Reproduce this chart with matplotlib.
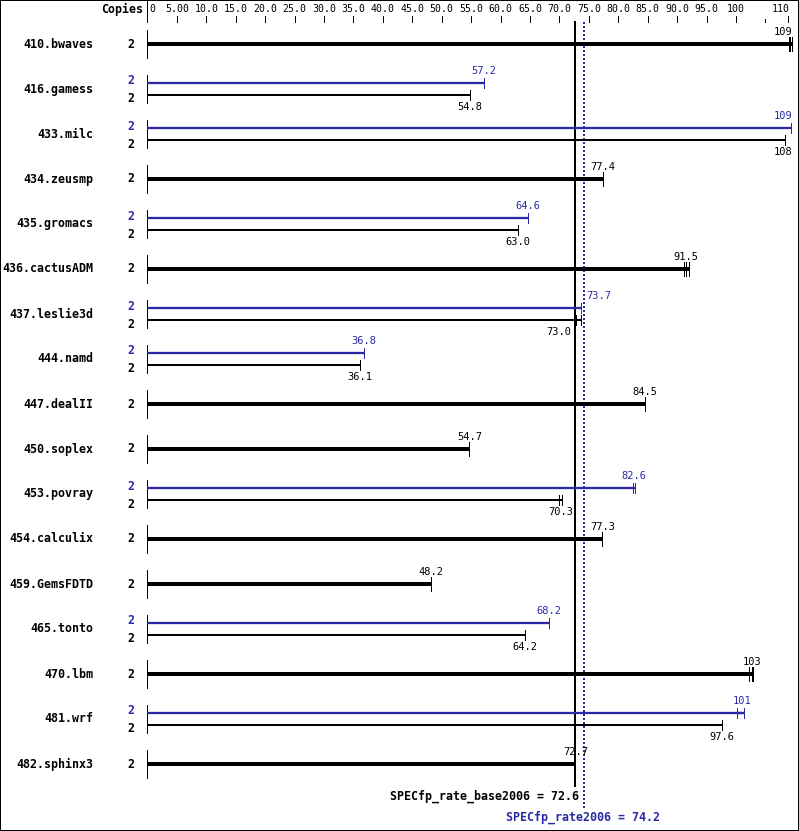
import matplotlib
matplotlib.use("Agg")
import matplotlib.pyplot as plt
from matplotlib.patches import Rectangle

# benchmark results (SPECfp_rate2006), 2 copies each
names = ["410.bwaves", "416.gamess", "433.milc", "434.zeusmp", "435.gromacs",
         "436.cactusADM", "437.leslie3d", "444.namd", "447.dealII", "450.soplex",
         "453.povray", "454.calculix", "459.GemsFDTD", "465.tonto", "470.lbm",
         "481.wrf", "482.sphinx3"]
copies = [2] * len(names)
base = [109.2, 54.8, 108.3, 77.4, 63.0, 91.5, 73.0, 36.1, 84.5, 54.7,
        70.3, 77.3, 48.2, 64.2, 102.7, 97.6, 72.7]
# spread of the runs (min / max), None when runs overlap
base_lo = [109.0, None, None, None, None, 91.2, 72.9, None, None, None,
           70.0, None, None, None, 102.2, None, None]
base_hi = [109.5, None, None, None, None, 92.0, 73.6, None, None, None,
           70.4, None, None, None, 102.9, None, None]
# peak results, None where peak == base
peak = [None, 57.2, 109.4, None, 64.6, None, 73.7, 36.8, None, None,
        82.6, None, None, 68.2, None, 101.0, None]
peak_lo = [None, None, None, None, None, None, None, None, None, None,
           82.45, None, None, None, None, 100.2, None]
peak_hi = [None, None, None, None, None, None, None, None, None, None,
           82.85, None, None, None, None, 101.4, None]

spec_base = 72.6
spec_peak = 74.2

tick_vals = [0, 5, 10, 15, 20, 25, 30, 35, 40, 45, 50, 55, 60, 65, 70, 75,
             80, 85, 90, 95, 100, 108.8]
tick_text = ["0", "5.00", "10.0", "15.0", "20.0", "25.0", "30.0", "35.0", "40.0",
             "45.0", "50.0", "55.0", "60.0", "65.0", "70.0", "75.0", "80.0",
             "85.0", "90.0", "95.0", "100", "110"]

BLUE = "#2a2aa6"
PX = 0.72  # one pixel in points at dpi 100
W, H = 799, 831
X0, SCALE = 147.4, 5.886  # pixel of 0, pixels per unit
CW = 6.3  # approx. pixel width of one value-label char


def fmt(v):
    return "%.0f" % v if v >= 100 else "%.1f" % v


def lab_x(v, txt):
    # keep value labels inside the picture
    half = len(txt) * CW / 2 / SCALE
    return min(v, (W - 6 - X0) / SCALE - half)


fig = plt.figure(figsize=(W / 100, H / 100), dpi=100)
ax = fig.add_axes([0, 0, 1, 1])
ax.set_xlim(-X0 / SCALE, (W - X0) / SCALE)
ax.set_ylim(H, 0)
ax.axis("off")

mono = "DejaVu Sans Mono"
px_x = lambda p: (p - X0) / SCALE  # pixel column to data x
FS_B = 8.4   # bold labels
FS_V = 7.5   # value labels
FS_T = 7.1   # tick labels

# frame
ax.add_patch(Rectangle((0, 0), 1, 1, transform=ax.transAxes, fill=False,
                       lw=2 * PX, ec="black", clip_on=False))

# top scale
ax.plot([0, 0], [0, 22], color="black", lw=PX)
ax.text(px_x(143), 9, "Copies", ha="right", va="center", fontsize=FS_B,
        family=mono, weight="bold")
for v, t in zip(tick_vals, tick_text):
    if v > 0:
        ax.plot([v, v], [16, 22], color="black", lw=PX)
    if v == 0:
        ax.text(0.3, 9, t, ha="left", va="center", fontsize=FS_T, family=mono)
    elif t == "110":
        ax.text(v + 0.3, 9, t, ha="right", va="center", fontsize=FS_T, family=mono)
    else:
        ax.text(v, 9, t, ha="center", va="center", fontsize=FS_T, family=mono)
ax.plot([105, 105], [19, 22], color="black", lw=PX)

# summary lines
ax.plot([spec_base, spec_base], [22, 786], color="black", lw=2 * PX)
ax.plot([spec_peak, spec_peak], [22, 808], color=BLUE, lw=2 * PX,
        linestyle=(0, (1, 1)))
ax.text(spec_base + 0.7, 796, "SPECfp_rate_base2006 = %.1f" % spec_base,
        ha="right", va="center", fontsize=FS_B, family=mono, weight="bold")
ax.text(spec_peak - 0.2, 817, "SPECfp_rate2006 = %.1f" % spec_peak, ha="center",
        va="center", fontsize=FS_B, family=mono, weight="bold", color=BLUE)

for i, name in enumerate(names):
    y = 44 + 45 * i
    ax.text(px_x(93), y, name, ha="right", va="center", fontsize=FS_B,
            family=mono, weight="bold")
    ax.plot([0, 0], [y - 14, y + 14], color="black", lw=PX)
    b = base[i]
    if peak[i] is None:
        ax.text(px_x(131), y, str(copies[i]), ha="center", va="center",
                fontsize=FS_B, family=mono, weight="bold")
        ax.plot([0, b], [y, y], color="black", lw=4 * PX, solid_capstyle="butt")
        ends = [b] if base_lo[i] is None else [base_lo[i], b, base_hi[i]]
        for e in ends:
            ax.plot([e, e], [y - 7, y + 7], color="black", lw=PX)
        if base_lo[i] is not None:
            ax.plot([b, base_hi[i]], [y, y], color="black", lw=4 * PX,
                    solid_capstyle="butt")
        t = fmt(b)
        ax.text(lab_x(b, t), y - 12, t, ha="center", va="center",
                fontsize=FS_V, family=mono)
    else:
        p = peak[i]
        yp, yb = y - 6, y + 6
        ax.text(px_x(131), y - 8, str(copies[i]), ha="center", va="center",
                fontsize=FS_B, family=mono, weight="bold", color=BLUE)
        ax.text(px_x(131), y + 10, str(copies[i]), ha="center", va="center",
                fontsize=FS_B, family=mono, weight="bold")
        ax.plot([0, p], [yp, yp], color=BLUE, lw=2.3 * PX, solid_capstyle="butt")
        ends = [p] if peak_lo[i] is None else [peak_lo[i], peak_hi[i]]
        for e in ends:
            ax.plot([e, e], [yp - 5, yp + 5], color=BLUE, lw=PX)
        if peak_lo[i] is not None:
            ax.plot([peak_lo[i], peak_hi[i]], [yp, yp], color=BLUE, lw=2.3 * PX,
                    solid_capstyle="butt")
        ax.plot([0, b], [yb, yb], color="black", lw=2 * PX, solid_capstyle="butt")
        ends = [b] if base_lo[i] is None else [base_lo[i], base_hi[i]]
        for e in ends:
            ax.plot([e, e], [yb - 5, yb + 5], color="black", lw=PX)
        if base_lo[i] is not None:
            ax.plot([base_lo[i], base_hi[i]], [yb, yb], color="black",
                    lw=2 * PX, solid_capstyle="butt")
        # peak label: move right of the dotted line if it would cross it
        t = fmt(p)
        half = len(t) * CW / 2 / SCALE
        if abs(p - spec_peak) < half:
            ax.text(spec_peak + 0.4, y - 18, t, ha="left", va="center",
                    fontsize=FS_V, family=mono, color=BLUE)
        else:
            ax.text(lab_x(p, t), y - 18, t, ha="center", va="center",
                    fontsize=FS_V, family=mono, color=BLUE)
        # base label: move left of the base line if it would cross it
        t = fmt(b)
        half = len(t) * CW / 2 / SCALE
        if abs(b - spec_base) < half:
            ax.text(spec_base - 0.6, y + 18, t, ha="right", va="center",
                    fontsize=FS_V, family=mono)
        else:
            ax.text(lab_x(b, t), y + 18, t, ha="center", va="center",
                    fontsize=FS_V, family=mono)

fig.savefig("out.png", dpi=100)
